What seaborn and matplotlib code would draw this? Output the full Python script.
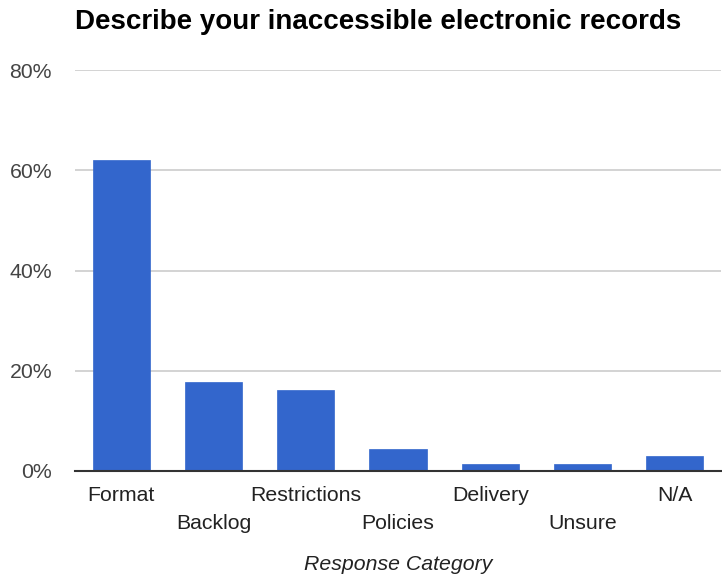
import matplotlib
matplotlib.use("Agg")
import matplotlib.pyplot as plt
import matplotlib.transforms as mtransforms
import seaborn as sns
import pandas as pd

categories = ["Format", "Backlog", "Restrictions", "Policies", "Delivery", "Unsure", "N/A"]
values = [62.0, 17.7, 16.1, 4.3, 1.3, 1.3, 3.0]
y_ticks = [0, 20, 40, 60, 80]
y_tick_labels = ["0%", "20%", "40%", "60%", "80%"]

sns.set_theme(style="white")
plt.rcParams['font.family'] = ['Liberation Sans', 'DejaVu Sans']

df = pd.DataFrame({"category": categories, "value": values})

W, H = 722, 578
fig = plt.figure(figsize=(W / 100, H / 100), dpi=100)
ax = fig.add_axes([75 / W, 1 - 471 / H, (721 - 75) / W, (471 - 70) / H])

ax.set_axisbelow(True)
for t in y_ticks[1:]:
    ax.axhline(t, color="#cccccc", lw=1.2, zorder=0)

sns.barplot(data=df, x="category", y="value", color="#3366CC", saturation=1,
            width=0.62, ax=ax, zorder=2, edgecolor="#3366CC", linewidth=0.5)

ax.set_ylim(0, 80)
ax.set_xlim(-0.5, len(categories) - 0.5)
ax.set_yticks(y_ticks)
ax.set_yticklabels(y_tick_labels, fontsize=15.3, color="#444444")
ax.set_xticks(range(len(categories)))
ax.set_xticklabels(categories, fontsize=15.3, color="#222222")
ax.tick_params(axis="both", length=0)
ax.tick_params(axis="y", pad=16.5)
ax.tick_params(axis="x", pad=11)

offset = mtransforms.ScaledTranslation(0, -28 / 100, fig.dpi_scale_trans)
for i, lbl in enumerate(ax.get_xticklabels()):
    if i % 2 == 1:
        lbl.set_transform(lbl.get_transform() + offset)

for side in ["top", "right", "left"]:
    ax.spines[side].set_visible(False)
ax.spines["bottom"].set_color("#333333")
ax.spines["bottom"].set_linewidth(1.5)
ax.spines["bottom"].set_zorder(3)

ax.set_ylabel("")
ax.set_xlabel("")
fig.text(398 / W, 1 - 565 / H, "Response Category", ha="center", va="center",
         fontsize=15.3, style="italic", color="#222222")

fig.text(75 / W, 1 - 22 / H, "Describe your inaccessible electronic records",
         ha="left", va="center", fontsize=20, fontweight="bold", color="#000000")

fig.savefig("out.png", dpi=100)
